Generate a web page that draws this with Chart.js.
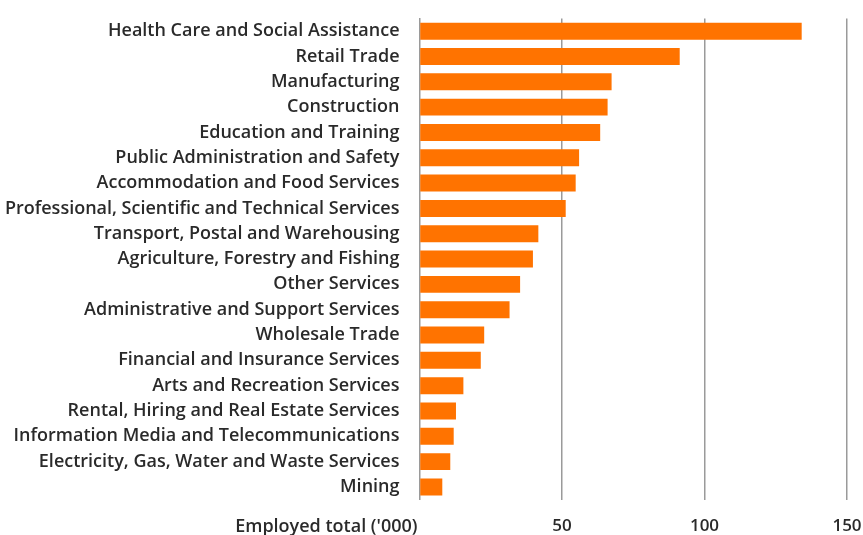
<!DOCTYPE html>
<html>
<head>
<meta charset="utf-8">
<script src="https://cdn.jsdelivr.net/npm/chart.js@4/dist/chart.umd.min.js"></script>
<style>
  html, body { margin:0; padding:0; background:#fff; }
  #wrap { width:863px; height:535px; position:relative; }
</style>
</head>
<body>
<div id="wrap"><canvas id="chart"></canvas></div>
<script>
  const industries = [
    'Health Care and Social Assistance',
    'Retail Trade',
    'Manufacturing',
    'Construction',
    'Education and Training',
    'Public Administration and Safety',
    'Accommodation and Food Services',
    'Professional, Scientific and Technical Services',
    'Transport, Postal and Warehousing',
    'Agriculture, Forestry and Fishing',
    'Other Services',
    'Administrative and Support Services',
    'Wholesale Trade',
    'Financial and Insurance Services',
    'Arts and Recreation Services',
    'Rental, Hiring and Real Estate Services',
    'Information Media and Telecommunications',
    'Electricity, Gas, Water and Waste Services',
    'Mining',
  ];
  const employed = [134.1, 91.3, 67.4, 66.0, 63.4, 56.0, 54.8, 51.3, 41.7, 39.8, 35.3, 31.6, 22.7, 21.5, 15.4, 12.8, 12.0, 10.8, 8.0];
  const xTicks = [0, 50, 100, 150];
  const axisTitle = "Employed total ('000)";

  const FONT = '"Open Sans", sans-serif';
  const TXT = '#2a2a2a';

  // draws the axis title where the "0" tick label would be, right aligned to the category labels
  const axisTitlePlugin = {
    id: 'axisTitle',
    afterDraw(chart) {
      const { ctx, chartArea } = chart;
      ctx.save();
      ctx.font = `600 18px ${FONT}`;
      ctx.fillStyle = TXT;
      ctx.textAlign = 'right';
      ctx.textBaseline = 'middle';
      ctx.fillText(axisTitle, chartArea.left - 2, chartArea.bottom + 27);
      ctx.restore();
    }
  };

  new Chart(document.getElementById('chart'), {
    type: 'bar',
    data: {
      labels: industries,
      datasets: [{
        data: employed,
        backgroundColor: '#ff7300',
        borderWidth: 0,
        barPercentage: 0.67,
        categoryPercentage: 1,
      }]
    },
    options: {
      indexAxis: 'y',
      responsive: true,
      maintainAspectRatio: false,
      animation: false,
      layout: { padding: { top: 18.5, right: 16, bottom: -17, left: -8 } },
      plugins: { legend:{ display:false }, tooltip:{ enabled:false } },
      scales: {
        x: {
          min: 0, max: 150,
          afterBuildTicks: ax => { ax.ticks = xTicks.map(v => ({ value:v })); },
          // tick padding would otherwise reserve room at both ends
          afterFit: ax => { ax.paddingLeft = 0; ax.paddingRight = 0; },
          border: { display:false },
          grid: {
            color: ctx => ctx.tick && ctx.tick.value === 0 ? 'rgba(0,0,0,0)' : '#9a9a9a',
            lineWidth: 1.5,
            drawTicks: false,
          },
          ticks: {
            padding: 16,
            color: TXT,
            font: { family: FONT, size: 17, weight: '600' },
            callback: v => v === 0 ? '' : v,
          }
        },
        y: {
          // keep the label gap from adding space above and below the plot
          afterFit: ax => { ax.paddingTop = 0; ax.paddingBottom = 0; },
          border: { display:true, color:'#9a9a9a', width:1.5 },
          grid: { display:false, drawTicks:false },
          ticks: {
            padding: 20,
            color: TXT,
            font: { family: FONT, size: 18, weight: '600' },
            autoSkip: false,
          }
        }
      }
    },
    plugins: [axisTitlePlugin]
  });
</script>
</body>
</html>
